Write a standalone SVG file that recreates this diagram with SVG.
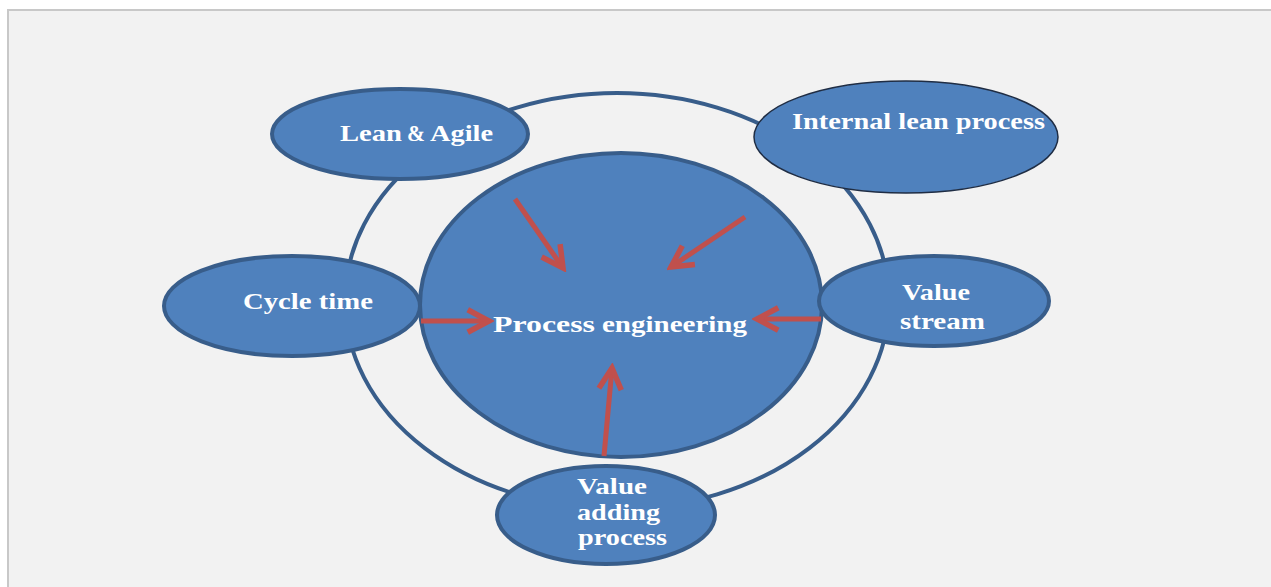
<svg xmlns="http://www.w3.org/2000/svg" width="1271" height="587" viewBox="0 0 1271 587">
<defs>
<style>
.node{fill:#4f81bd;stroke:#385d8a;stroke-width:4}
.thin{fill:#4f81bd;stroke:#1f2d44;stroke-width:1.5}
.ring{fill:none;stroke:#385d8a;stroke-width:4}
.t{font-family:"Liberation Serif","Times New Roman",serif;font-weight:bold;fill:#ffffff;font-size:23px}
.arrow{stroke:#c0504d;stroke-width:5;fill:none;marker-end:url(#ah)}
</style>
<marker id="ah" viewBox="0 0 12 12" refX="10" refY="6" markerWidth="6" markerHeight="6" orient="auto" markerUnits="strokeWidth">
<path d="M1.5,1.5 L10,6 L1.5,10.5" fill="none" stroke="#c0504d" stroke-width="2.2" stroke-linejoin="miter"/>
</marker>
</defs>
<rect x="0" y="0" width="1271" height="587" fill="#ffffff"/>
<rect x="8" y="10" width="1270" height="580" fill="#f2f2f2" stroke="#c8c8c8" stroke-width="2"/>
<g id="ring"><ellipse class="ring" cx="617" cy="301" rx="272" ry="208"/></g>
<g id="process-engineering">
<ellipse class="node" cx="621" cy="305" rx="201" ry="152"/>
<text class="t" x="493" y="332" font-size="28" textLength="102" lengthAdjust="spacingAndGlyphs">Process</text>
<text class="t" x="602" y="332" font-size="24" textLength="145" lengthAdjust="spacingAndGlyphs">engineering</text>
</g>
<g id="lean-agile">
<ellipse class="node" cx="400" cy="134" rx="128" ry="45"/>
<text class="t" x="340" y="141" font-size="24" textLength="62" lengthAdjust="spacingAndGlyphs">Lean</text>
<text class="t" x="407" y="141" font-size="18" textLength="18" lengthAdjust="spacingAndGlyphs">&amp;</text>
<text class="t" x="430" y="141" font-size="24" textLength="63" lengthAdjust="spacingAndGlyphs">Agile</text>
</g>
<g id="internal-lean">
<ellipse class="thin" cx="906" cy="137" rx="152" ry="56"/>
<text class="t" x="792" y="129" textLength="253" lengthAdjust="spacingAndGlyphs">Internal lean process</text>
</g>
<g id="cycle-time">
<ellipse class="node" cx="292" cy="306" rx="128" ry="50"/>
<text class="t" x="243" y="309" textLength="130" lengthAdjust="spacingAndGlyphs">Cycle time</text>
</g>
<g id="value-stream">
<ellipse class="node" cx="934" cy="301" rx="115" ry="45"/>
<text class="t" x="902" y="300" textLength="68" lengthAdjust="spacingAndGlyphs">Value</text>
<text class="t" x="900" y="329" textLength="85" lengthAdjust="spacingAndGlyphs">stream</text>
</g>
<g id="value-adding">
<ellipse class="node" cx="606" cy="515" rx="109" ry="49"/>
<text class="t" x="577" y="494" textLength="70" lengthAdjust="spacingAndGlyphs">Value</text>
<text class="t" x="577" y="520" textLength="83" lengthAdjust="spacingAndGlyphs">adding</text>
<text class="t" x="578" y="545" textLength="89" lengthAdjust="spacingAndGlyphs">process</text>
</g>
<g id="connectors">
<line class="arrow" x1="515" y1="199" x2="563" y2="268"/>
<line class="arrow" x1="745" y1="217" x2="671" y2="267"/>
<line class="arrow" x1="421" y1="321" x2="489" y2="321"/>
<line class="arrow" x1="821" y1="319" x2="757" y2="319"/>
<line class="arrow" x1="604" y1="456" x2="612" y2="368"/>
</g>
</svg>
